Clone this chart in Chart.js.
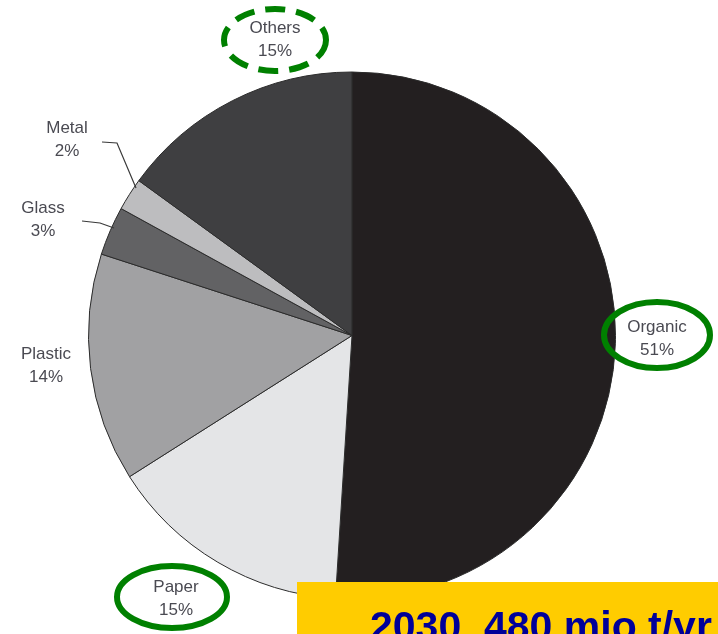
<!DOCTYPE html>
<html>
<head>
<meta charset="utf-8">
<script src="https://cdn.jsdelivr.net/npm/chart.js@4/dist/chart.umd.min.js"></script>
<style>
  html, body { margin: 0; padding: 0; background: #ffffff; overflow: hidden; }
  #wrap { position: relative; width: 718px; height: 634px; }
</style>
</head>
<body>
<div id="wrap"><canvas id="c" width="718" height="634"></canvas></div>
<script>
// Waste composition (share of total, %)
const categories = ['Organic', 'Paper', 'Plastic', 'Glass', 'Metal', 'Others'];
const shares = [51, 15, 14, 3, 2, 15];
const sliceColors = ['#231f20', '#e4e5e7', '#a1a1a3', '#626264', '#bdbdbf', '#3f3f41'];
const highlighted = ['Organic', 'Paper', 'Others'];
const bannerText = '2030, 480 mio t/yr';

// Where each label sits and how its leader line runs
const labelLayout = {
  Organic: { x: 657, y: 327 },
  Paper:   { x: 176, y: 587 },
  Plastic: { x: 46,  y: 354 },
  Glass:   { x: 43,  y: 208, leader: [[82, 221], [100, 223], [114, 228]] },
  Metal:   { x: 67,  y: 128, leader: [[102, 142], [117, 143], [136, 188]] },
  Others:  { x: 275, y: 28 }
};
const ringStyle = {
  Organic: { dx: 0, dy: 8, rx: 53, ry: 33, dash: [] },
  Paper:   { dx: -4, dy: 10, rx: 55, ry: 31, dash: [] },
  Others:  { dx: 0, dy: 12, rx: 51, ry: 31, dash: [20, 11] }
};

const annotations = {
  id: 'annotations',
  afterDraw(chart) {
    const ctx = chart.ctx;
    ctx.save();
    // category labels
    ctx.font = '17px "Liberation Sans", Arial, sans-serif';
    ctx.fillStyle = '#4a4a52';
    ctx.textAlign = 'center';
    ctx.textBaseline = 'middle';
    categories.forEach((name, i) => {
      const p = labelLayout[name];
      ctx.fillText(name, p.x, p.y);
      ctx.fillText(shares[i] + '%', p.x, p.y + 23);
      if (p.leader) {
        ctx.beginPath();
        ctx.strokeStyle = '#3a3a3a';
        ctx.lineWidth = 1.2;
        p.leader.forEach((pt, k) => k ? ctx.lineTo(pt[0], pt[1]) : ctx.moveTo(pt[0], pt[1]));
        ctx.stroke();
      }
    });
    // green rings around the highlighted categories
    highlighted.forEach(name => {
      const p = labelLayout[name], r = ringStyle[name];
      ctx.beginPath();
      ctx.setLineDash(r.dash);
      ctx.strokeStyle = '#008000';
      ctx.lineWidth = 6;
      ctx.ellipse(p.x + r.dx, p.y + r.dy, r.rx, r.ry, 0, 0, Math.PI * 2);
      ctx.stroke();
    });
    ctx.setLineDash([]);
    // banner
    ctx.fillStyle = '#ffcc00';
    ctx.fillRect(297, 582, 421, 52);
    ctx.fillStyle = '#000099';
    ctx.font = 'bold 41px "Liberation Sans", Arial, sans-serif';
    ctx.textAlign = 'left';
    ctx.textBaseline = 'alphabetic';
    ctx.fillText(bannerText, 370, 640);
    ctx.restore();
  }
};

new Chart(document.getElementById('c'), {
  type: 'pie',
  data: {
    labels: categories,
    datasets: [{
      data: shares,
      backgroundColor: sliceColors,
      borderColor: '#2b2b2b',
      borderWidth: 1
    }]
  },
  options: {
    responsive: false,
    animation: false,
    layout: { padding: { left: 88, right: 102, top: 71, bottom: 34 } },
    plugins: { legend: { display: false }, tooltip: { enabled: false } }
  },
  plugins: [annotations]
});
</script>
</body>
</html>
